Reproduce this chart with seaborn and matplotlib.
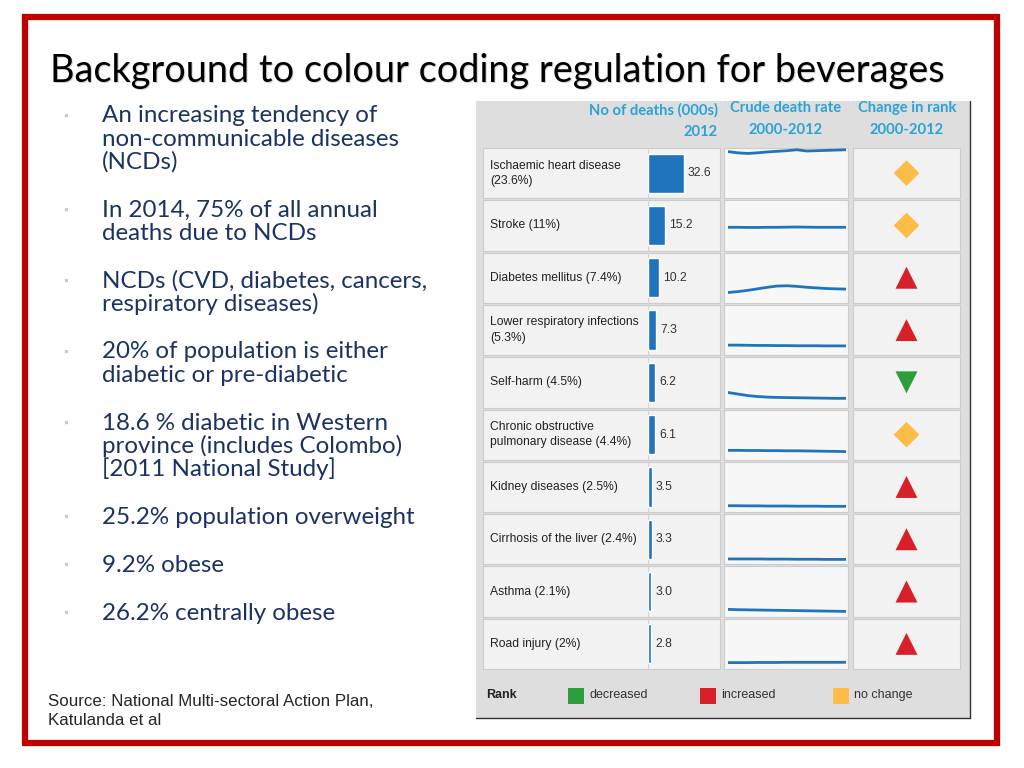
#!/usr/bin/env python3

import matplotlib
matplotlib.use("Agg")
import matplotlib.pyplot as plt
from matplotlib.patches import Rectangle
import seaborn as sns

W, H = 1024, 768

title = "Background to colour coding regulation for beverages"

bullets = [
    ["An increasing tendency of", "non-communicable diseases", "(NCDs)"],
    ["In 2014, 75% of all annual", "deaths due to NCDs"],
    ["NCDs (CVD, diabetes, cancers,", "respiratory diseases)"],
    ["20% of population is either", "diabetic or pre-diabetic"],
    ["18.6 % diabetic in Western", "province (includes Colombo)", "[2011 National Study]"],
    ["25.2% population overweight"],
    ["9.2% obese"],
    ["26.2% centrally obese"],
]

source = "Source: National Multi-sectoral Action Plan,\nKatulanda et al"

# table data
causes = ["Ischaemic heart disease\n(23.6%)", "Stroke (11%)", "Diabetes mellitus (7.4%)",
          "Lower respiratory infections\n(5.3%)", "Self-harm (4.5%)",
          "Chronic obstructive\npulmonary disease (4.4%)", "Kidney diseases (2.5%)",
          "Cirrhosis of the liver (2.4%)", "Asthma (2.1%)", "Road injury (2%)"]
deaths = [32.6, 15.2, 10.2, 7.3, 6.2, 6.1, 3.5, 3.3, 3.0, 2.8]
rank_change = ["no change", "no change", "increased", "increased", "decreased",
               "no change", "increased", "increased", "increased", "increased"]

years = list(range(2000, 2013))
rate_ihd = [155, 151, 149, 151, 154, 156, 158, 161, 157, 158, 159, 160, 161]
rate_stroke = [79, 79, 78.5, 78.5, 79, 79, 79.5, 80, 79.5, 79, 79, 79, 79]
rate_diabetes = [37, 40, 44, 49, 54, 58, 59, 57, 54, 52, 50, 49, 48]
rate_lri = [36, 36, 35.5, 35, 35, 34.5, 34.5, 34, 34, 34, 33.5, 33.5, 33.5]
rate_selfharm = [52, 47, 42, 39, 37, 36, 35.5, 35, 34.5, 34, 33.5, 33, 33]
rate_copd = [34, 34, 33.5, 33.5, 33, 33, 32.5, 32.5, 32, 31.5, 31, 30.5, 30]
rate_kidney = [24, 24, 23.5, 23.5, 23, 23, 23, 22.5, 22.5, 22.5, 22, 22, 22]
rate_cirrhosis = [21, 21, 21, 21, 20.5, 20.5, 20.5, 20, 20, 20, 19.5, 19.5, 19.5]
rate_asthma = [27, 26, 25.5, 25, 24.5, 24, 23.5, 23, 22.5, 22, 21.5, 21, 20.5]
rate_road = [24, 24, 24, 24.5, 24.5, 24.5, 25, 25, 25, 25, 25, 25, 25]
rates = [rate_ihd, rate_stroke, rate_diabetes, rate_lri, rate_selfharm,
         rate_copd, rate_kidney, rate_cirrhosis, rate_asthma, rate_road]

legend_labels = ["decreased", "increased", "no change"]
rank_colors = {"decreased": "#2e9e3a", "increased": "#d7202a", "no change": "#fbbd48"}
rank_markers = {"decreased": "v", "increased": "^", "no change": "D"}
rank_sizes = {"decreased": 250, "increased": 250, "no change": 170}

BLUE = "#1f74bd"
HEAD = "#2aa3d6"
NAVY = "#1b3263"

ROW_TOP = 147
ROW_H = 52.3


def px_rect(x0, y0, x1, y1):
    return [x0 / W, 1 - y1 / H, (x1 - x0) / W, (y1 - y0) / H]


def main():
    sns.set_style("white")
    plt.rcParams['font.family'] = ['Lato', 'DejaVu Sans']

    fig = plt.figure(figsize=(W / 100, H / 100), dpi=100)

    bg = fig.add_axes([0, 0, 1, 1])
    bg.set_xlim(0, W)
    bg.set_ylim(H, 0)
    bg.axis('off')

    # slide frame
    bg.add_patch(Rectangle((25, 17), 972, 726, fill=False, ec="#c00000", lw=4.5))

    # title and bullets
    bg.text(51.2, 83.2, title, fontsize=27.3, color="#cfcfcf", va='baseline')
    bg.text(50, 82, title, fontsize=27.3, color="black", va='baseline')

    y = 116
    for item in bullets:
        bg.text(66, y, "\u25aa", fontsize=8.5, color="#c9c9c9", ha='center', va='center')
        for line in item:
            bg.text(102, y, line, fontsize=17.4, color=NAVY, va='center')
            y += 23
        y += 25

    bg.text(48, 711, source, fontsize=12.2, family='Liberation Sans', va='center',
            linespacing=1.3)

    # table background
    bg.add_patch(Rectangle((476, 101), 494, 617, fc="#dedede", ec="none"))
    bg.plot([970, 970], [101, 718], color="#333333", lw=1)
    bg.plot([476, 970], [718, 718], color="#333333", lw=1)

    for i in range(len(causes)):
        top = ROW_TOP + i * ROW_H
        bg.add_patch(Rectangle((483, top + 1), 237, ROW_H - 2, fc="#f2f2f2", ec="#cccccc", lw=0.8))
        bg.plot([648, 648], [top + 1, top + ROW_H - 1], color="#d2d2d2", lw=0.8)
        bg.add_patch(Rectangle((724, top + 1), 124, ROW_H - 2, fc="#f7f7f7", ec="#cccccc", lw=0.8))
        bg.add_patch(Rectangle((853, top + 1), 107, ROW_H - 2, fc="#f2f2f2", ec="#cccccc", lw=0.8))
        bg.text(490, top + ROW_H / 2, causes[i], fontsize=8.7, family='Liberation Sans',
                color="#222222", va='center', linespacing=1.35)

    # headers
    hd = dict(fontsize=10.6, color=HEAD, fontweight='bold', va='center')
    bg.text(718, 110, "No of deaths (000s)", ha='right', **hd)
    bg.text(718, 132, "2012", ha='right', **hd)
    bg.text(786, 108, "Crude death rate", ha='center', **hd)
    bg.text(786, 130, "2000-2012", ha='center', **hd)
    bg.text(907, 108, "Change in rank", ha='center', **hd)
    bg.text(907, 130, "2000-2012", ha='center', **hd)

    # legend strip
    bg.text(486, 695, "Rank", fontsize=9, family='Liberation Sans', fontweight='bold',
            color="#222222", va='center')
    for lab, x in zip(legend_labels, [568, 700, 833]):
        bg.add_patch(Rectangle((x, 688), 16, 16, fc=rank_colors[lab], ec="none"))
        bg.text(x + 21, 695, lab, fontsize=9, family='Liberation Sans',
                color="#333333", va='center')

    table_bottom = ROW_TOP + len(causes) * ROW_H

    # bars
    ax_bar = fig.add_axes(px_rect(648, ROW_TOP, 717, table_bottom))
    sns.barplot(x=deaths, y=list(range(len(deaths))), orient='h', color=BLUE,
                saturation=1, width=0.75, ax=ax_bar)
    ax_bar.bar_label(ax_bar.containers[0], fmt='%.1f', padding=3, fontsize=8.7,
                     family='Liberation Sans', color="#333333")
    ax_bar.set_xlim(0, 62.7)
    ax_bar.set_ylim(len(deaths) - 0.5, -0.5)
    ax_bar.axis('off')
    ax_bar.patch.set_alpha(0)

    # sparklines
    for i, r in enumerate(rates):
        top = ROW_TOP + i * ROW_H
        ax = fig.add_axes(px_rect(728, top, 846, top + ROW_H))
        sns.lineplot(x=years, y=r, color=BLUE, lw=2, ax=ax)
        ax.set_xlim(2000, 2012)
        ax.set_ylim(0, 170)
        ax.axis('off')
        ax.patch.set_alpha(0)

    # rank change markers
    ax_rank = fig.add_axes(px_rect(853, ROW_TOP, 960, table_bottom))
    sns.scatterplot(x=[0.5] * len(rank_change), y=list(range(len(rank_change))),
                    hue=rank_change, style=rank_change, size=rank_change,
                    palette=rank_colors, markers=rank_markers, sizes=rank_sizes,
                    linewidth=0, legend=False, ax=ax_rank)
    ax_rank.set_xlim(0, 1)
    ax_rank.set_ylim(len(rank_change) - 0.5, -0.5)
    ax_rank.axis('off')
    ax_rank.patch.set_alpha(0)

    plt.savefig('out.png', dpi=100)


if __name__ == "__main__":
    main()
